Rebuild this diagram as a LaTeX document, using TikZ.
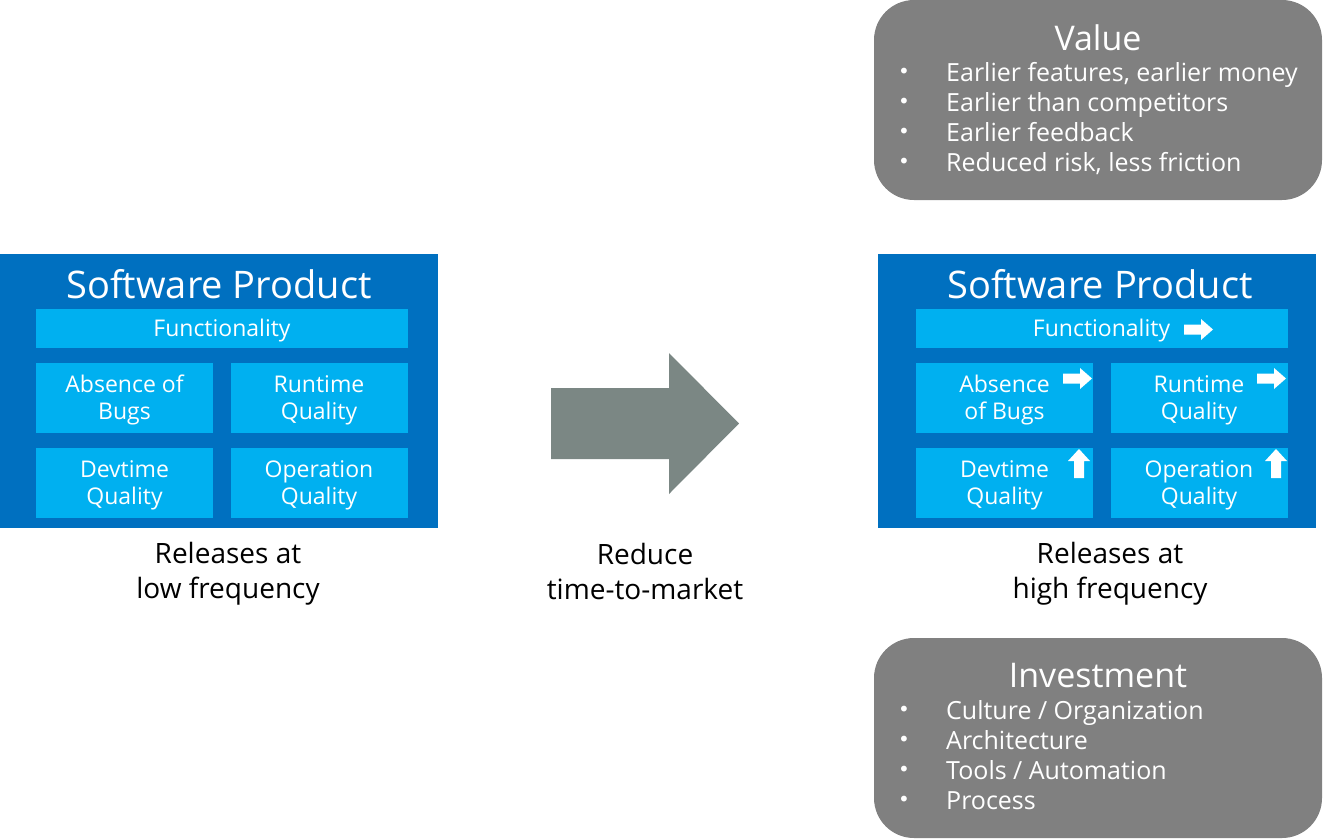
\documentclass[tikz,border=0pt]{standalone}
\usepackage{fontspec}
\setmainfont{Open Sans}
\newfontfamily\bulletfont{DejaVu Sans}
\definecolor{darkblue}{RGB}{0,112,192}
\definecolor{lightblue}{RGB}{0,176,240}
\definecolor{boxgrey}{RGB}{128,128,128}
\definecolor{arrowgrey}{RGB}{123,135,132}
\begin{document}
\begin{tikzpicture}[x=1pt,y=-1pt,
  outerbox/.style={fill=darkblue,inner sep=0pt,minimum width=438pt,minimum height=274pt},
  subbox/.style={fill=lightblue,inner sep=0pt,minimum width=177pt,minimum height=70pt},
  funcbox/.style={fill=lightblue,inner sep=0pt,minimum width=372pt,minimum height=39pt},
  boxtext/.style={text=white,inner sep=0pt,align=center,font=\fontsize{23}{27}\selectfont},
  titletext/.style={text=white,inner sep=0pt,font=\fontsize{38}{42}\selectfont},
  caption/.style={inner sep=0pt,align=center,text=black,font=\fontsize{28}{35}\selectfont},
  infobox/.style={fill=boxgrey,rounded corners=40pt,inner sep=0pt,minimum width=448pt,minimum height=200pt},
  infotitle/.style={text=white,inner sep=0pt,font=\fontsize{34}{38}\selectfont},
  bullettext/.style={text=white,inner sep=0pt,align=left,font=\fontsize{25}{30}\selectfont},
  bulletcol/.style={text=white,inner sep=0pt,align=center,font=\bulletfont\fontsize{20}{30}\selectfont},
  whitearrow/.style={fill=white}
]
\useasboundingbox (0,0) rectangle (1323,839);

% ---------- left product ----------
\node[outerbox] (lout) at (219,391) {};
\node[titletext] (ltitle) at (219,284) {Software Product};
\node[funcbox] (lfunc) at (222,328.5) {};
\node[boxtext] (lfunct) at (222,331) {Functionality};
\node[subbox] (labs) at (124.5,398) {};
\node[subbox] (lrun) at (319,398) {};
\node[subbox] (ldev) at (124.5,483) {};
\node[subbox] (lop) at (319,483) {};
\node[boxtext] (labst) at (124.5,400) {Absence of\\Bugs};
\node[boxtext] (lrunt) at (319,400) {Runtime\\Quality};
\node[boxtext] (ldevt) at (124.5,485) {Devtime\\Quality};
\node[boxtext] (lopt) at (319,485) {Operation\\Quality};
\node[caption] (lcap) at (228,574) {Releases at\\low frequency};

% ---------- big arrow ----------
\fill[arrowgrey] (551,388) -- (669,388) -- (669,353) -- (739,423.5) -- (669,494) -- (669,459) -- (551,459) -- cycle;
\node[caption] (mcap) at (645,571) {Reduce\\time-to-market};

% ---------- right product ----------
\node[outerbox] (rout) at (1097,391) {};
\node[titletext] (rtitle) at (1100,284) {Software Product};
\node[funcbox] (rfunc) at (1102,328.5) {};
\node[boxtext] (rfunct) at (1101.5,331) {Functionality};
\node[subbox] (rabs) at (1004.5,398) {};
\node[subbox] (rrun) at (1199,398) {};
\node[subbox] (rdev) at (1004.5,483) {};
\node[subbox] (rop) at (1199,483) {};
\node[boxtext] (rabst) at (1004.5,400) {Absence\\of Bugs};
\node[boxtext] (rrunt) at (1199,400) {Runtime\\Quality};
\node[boxtext] (rdevt) at (1004.5,485) {Devtime\\Quality};
\node[boxtext] (ropt) at (1199,485) {Operation\\Quality};
\node[caption] (rcap) at (1110,574) {Releases at\\high frequency};

% small right arrows
\fill[whitearrow] (1184,324.5) -- (1201,324.5) -- (1201,319) -- (1213,329.5) -- (1201,340) -- (1201,334.5) -- (1184,334.5) -- cycle;
\fill[whitearrow] (1063,373.5) -- (1080,373.5) -- (1080,368) -- (1092,378.5) -- (1080,389) -- (1080,383.5) -- (1063,383.5) -- cycle;
\fill[whitearrow] (1257,373.5) -- (1274,373.5) -- (1274,368) -- (1286,378.5) -- (1274,389) -- (1274,383.5) -- (1257,383.5) -- cycle;
% small up arrows
\fill[whitearrow] (1074,478) -- (1074,461) -- (1068,461) -- (1079,449) -- (1090,461) -- (1084,461) -- (1084,478) -- cycle;
\fill[whitearrow] (1271,478) -- (1271,461) -- (1265,461) -- (1276,449) -- (1287,461) -- (1281,461) -- (1281,478) -- cycle;

% ---------- value box ----------
\node[infobox] (value) at (1098,100) {};
\node[infotitle] (vtitle) at (1098,38) {Value};
\node[bulletcol] (vbul) at (904,118) {•\\•\\•\\•};
\node[bullettext,anchor=north west] (vlist) at (946,62) {Earlier features, earlier money\\Earlier than competitors\\Earlier feedback\\Reduced risk, less friction};

% ---------- investment box ----------
\node[infobox] (invest) at (1098,738) {};
\node[infotitle] (ititle) at (1098,676) {Investment};
\node[bulletcol] (ibul) at (904,756) {•\\•\\•\\•};
\node[bullettext,anchor=north west] (ilist) at (946,700) {Culture / Organization\\Architecture\\Tools / Automation\\Process};
\end{tikzpicture}
\end{document}
